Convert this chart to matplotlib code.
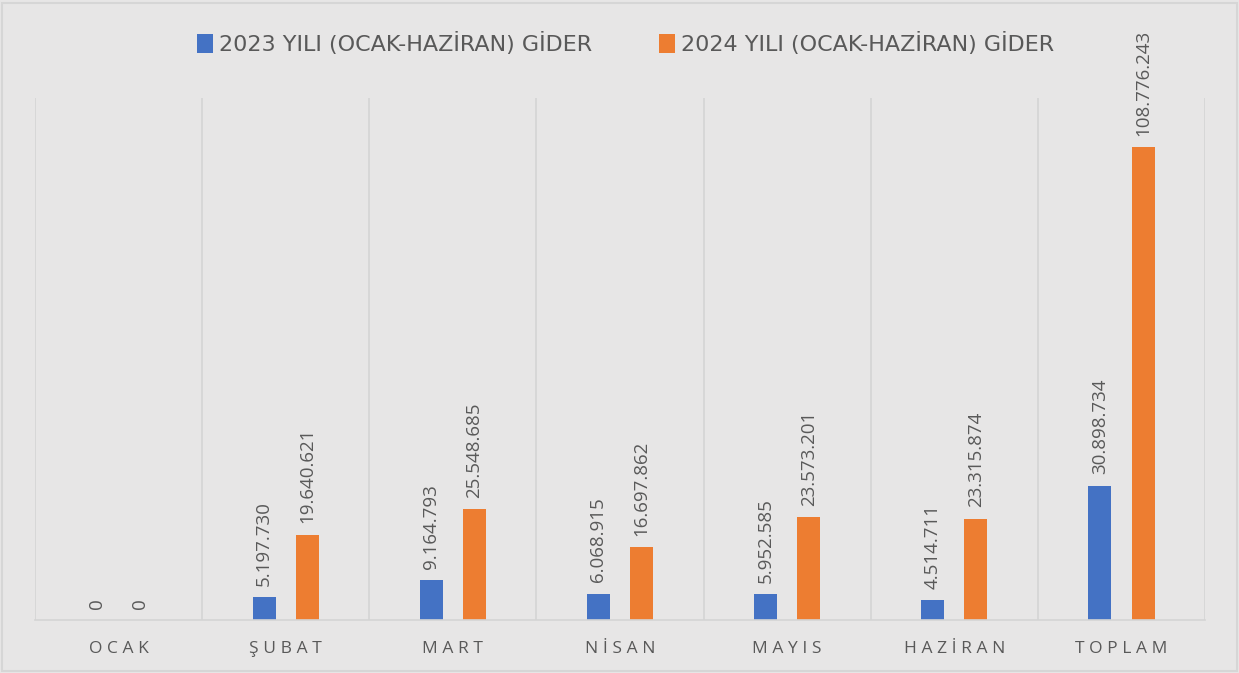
import matplotlib.pyplot as plt
import numpy as np
from matplotlib.patches import Rectangle

# Veriler
aylar = ["OCAK", "ŞUBAT", "MART", "NİSAN", "MAYIS", "HAZİRAN", "TOPLAM"]
gider_2023 = [0, 5197730, 9164793, 6068915, 5952585, 4514711, 30898734]
gider_2024 = [0, 19640621, 25548685, 16697862, 23573201, 23315874, 108776243]
seri_adlari = ["2023 YILI (OCAK-HAZİRAN) GİDER", "2024 YILI (OCAK-HAZİRAN) GİDER"]

mavi = "#4472C4"
turuncu = "#ED7D31"
arka_plan = "#E7E6E6"
yazi_rengi = "#595959"
cizgi_rengi = "#D4D4D4"


def bicim(sayi):
    # Türkçe binlik ayırıcı (nokta)
    return f"{sayi:,}".replace(",", ".")


fig = plt.figure(figsize=(12.39, 6.73), dpi=100, facecolor=arka_plan)
fig.patches.append(Rectangle((0.002, 0.003), 0.996, 0.993, transform=fig.transFigure,
                             fill=False, edgecolor="#D6D6D6", linewidth=1.5))
ax = fig.add_axes([0.0282, 0.0788, 0.9444, 0.7756])
ax.set_facecolor(arka_plan)

x = np.arange(len(aylar))
genislik = 0.138
kaydir = 0.129
b1 = ax.bar(x - kaydir, gider_2023, genislik, color=mavi, label=seri_adlari[0])
b2 = ax.bar(x + kaydir, gider_2024, genislik, color=turuncu, label=seri_adlari[1])

etiket_font = ["Open Sans", "DejaVu Sans"]
for cubuklar, degerler in [(b1, gider_2023), (b2, gider_2024)]:
    for cubuk, deger in zip(cubuklar, degerler):
        ax.annotate(bicim(deger), (cubuk.get_x() + cubuk.get_width() / 2, deger),
                    xytext=(0, 8), textcoords="offset points", rotation=90,
                    ha="center", va="bottom", fontsize=13.5, color=yazi_rengi,
                    family=etiket_font)

ax.set_xlim(-0.5, len(aylar) - 0.5)
ax.set_ylim(0, 120000000)
ax.set_yticks([])
ax.set_xticks(x)
ax.set_xticklabels(["\u2009\u200a".join(a) for a in aylar], fontsize=12.5, color=yazi_rengi,
                   family=etiket_font)
ax.tick_params(axis="x", length=0, pad=15)

# kategoriler arası dikey çizgiler
for sinir in np.arange(-0.5, len(aylar), 1.0):
    ax.axvline(sinir, color=cizgi_rengi, linewidth=1.2, zorder=0)

for kenar in ["top", "left", "right"]:
    ax.spines[kenar].set_visible(False)
ax.spines["bottom"].set_color(cizgi_rengi)
ax.spines["bottom"].set_linewidth(1.2)

fig.legend(handles=[b1, b2], loc="center", bbox_to_anchor=(0.505, 0.935), ncol=2,
           frameon=False, handlelength=0.7, handleheight=0.9,
           handletextpad=0.3, columnspacing=3.0,
           prop={"family": ["Liberation Sans Narrow", "DejaVu Sans"], "size": 16},
           labelcolor=yazi_rengi)

plt.savefig("out.png", dpi=100, facecolor=arka_plan)
